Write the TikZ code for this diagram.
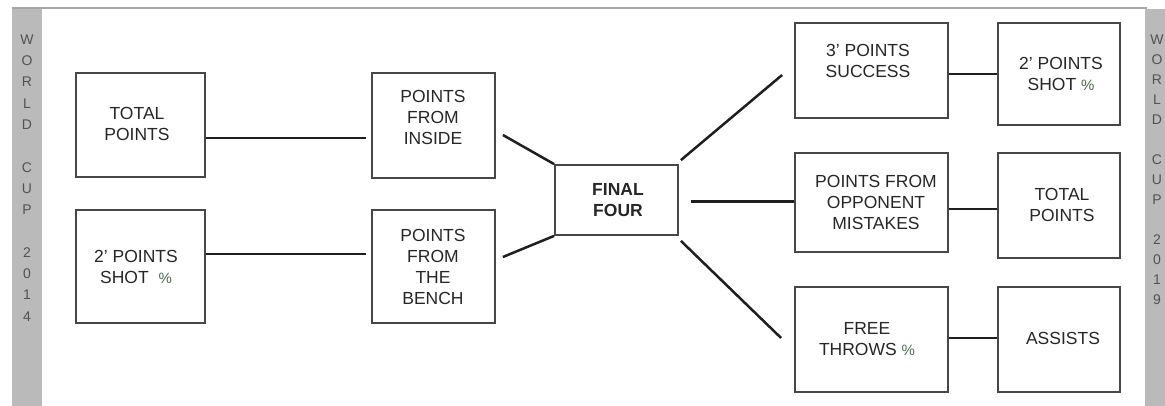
\documentclass[tikz,border=0pt]{standalone}
\usepackage{fontspec}
\setmainfont{Liberation Sans}
\usetikzlibrary{calc}
\definecolor{pctc}{rgb}{0.30,0.42,0.30}
\newcommand{\pc}{\textcolor{pctc}{\fontsize{15}{15}\selectfont\%}}
\begin{document}
\begin{tikzpicture}[x=1pt,y=-1pt,
  box/.style={draw=black!72,line width=1.8pt,rectangle,inner sep=0pt},
  conn/.style={draw=black!88,line width=2.5pt},
  lbl/.style={font=\fontsize{17.5}{21}\selectfont,align=center,text=black!85,inner sep=0pt},
  side/.style={font=\fontsize{14}{21.3}\selectfont,align=center,text=black!68,inner sep=0pt}]
\useasboundingbox (0,0) rectangle (1165,406);
% side bars
\fill[black!27] (12,9) rectangle (42,406);
\fill[black!27] (1145,9) rectangle (1165,406);
\draw[black!35,line width=1.2pt] (12,8) -- (1147,8);
\node[side] (lside) at (27,178) {W\\O\\R\\L\\D\\~\\C\\U\\P\\~\\2\\0\\1\\4};
\node[side,font=\fontsize{14}{20}\selectfont] (rside) at (1157,170) {W\\O\\R\\L\\D\\~\\C\\U\\P\\~\\2\\0\\1\\9};
% boxes
\node[box,minimum width=129pt,minimum height=104pt] (tl) at (140.5,125) {};
\node[box,minimum width=123pt,minimum height=105pt] (inside) at (433.5,125.5) {};
\node[box,minimum width=129pt,minimum height=113pt] (sp) at (140.5,266.5) {};
\node[box,minimum width=123pt,minimum height=113pt] (bench) at (433.5,266.5) {};
\node[box,minimum width=123pt,minimum height=70pt] (final) at (616.5,200) {};
\node[box,minimum width=153pt,minimum height=95pt] (succ) at (871.5,70.5) {};
\node[box,minimum width=153pt,minimum height=99pt] (opp) at (871.5,202.5) {};
\node[box,minimum width=153pt,minimum height=105pt] (ft) at (871.5,339.5) {};
\node[box,minimum width=122pt,minimum height=102pt] (shot2) at (1059,74) {};
\node[box,minimum width=122pt,minimum height=105pt] (tp2) at (1059,205.5) {};
\node[box,minimum width=122pt,minimum height=105pt] (ast) at (1059,339.5) {};
% labels
\node[lbl] (tlt) at (137,124) {TOTAL\\POINTS};
\node[lbl] (insidet) at (433,117) {POINTS\\FROM\\INSIDE};
\node[lbl] (spt) at (136,267) {2' POINTS\\SHOT \ \pc};
\node[lbl] (bencht) at (433,266.5) {POINTS\\FROM\\THE\\BENCH};
\node[lbl,font=\fontsize{17.5}{21}\selectfont\bfseries] (finalt) at (618,200) {FINAL\\FOUR};
\node[lbl] (succt) at (868,60.5) {3' POINTS\\SUCCESS};
\node[lbl] (oppt) at (876,202) {POINTS FROM\\OPPONENT\\MISTAKES};
\node[lbl] (ftt) at (867,339) {FREE\\THROWS \pc};
\node[lbl] (shot2t) at (1061,74) {2' POINTS\\SHOT \pc};
\node[lbl] (tp2t) at (1062,205) {TOTAL\\POINTS};
\node[lbl] (astt) at (1063,338) {ASSISTS};
% connectors
\coordinate (c1) at ($(tl.east)+(0,13)$);
\draw[conn] (c1) -- ($(inside.west |- c1)+(-5,0)$);
\coordinate (c2) at ($(sp.east)+(0,-12.5)$);
\draw[conn] (c2) -- ($(bench.west |- c2)+(-5,0)$);
\draw[conn] ($(inside.east)+(7,9.5)$) -- (final.north west);
\draw[conn] ($(bench.east)+(7,-9.5)$) -- (final.south west);
\draw[conn] ($(final.north east)+(2,-4)$) -- ($(succ.west)+(-12,4.5)$);
\coordinate (c3) at ($(final.east)+(12,1.5)$);
\draw[conn] (c3) -- (opp.west |- c3);
\draw[conn] ($(final.south east)+(2,5)$) -- ($(ft.west)+(-13,-1.5)$);
\coordinate (c4) at ($(succ.east)+(0,3.5)$);
\draw[conn] (c4) -- (shot2.west |- c4);
\coordinate (c5) at ($(opp.east)+(0,6.5)$);
\draw[conn] (c5) -- (tp2.west |- c5);
\coordinate (c6) at ($(ft.east)+(0,-1.5)$);
\draw[conn] (c6) -- (ast.west |- c6);
\end{tikzpicture}
\end{document}
